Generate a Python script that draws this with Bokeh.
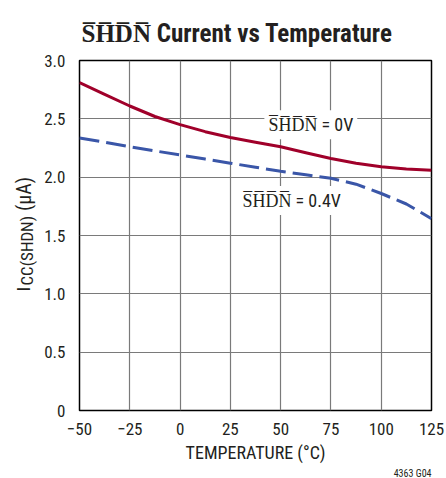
import numpy as np
from bokeh.plotting import figure
from bokeh.layouts import row, column
from bokeh.models import Label, FixedTicker, PrintfTickFormatter, Range1d, Title
from bokeh.embed import file_html
from bokeh.resources import INLINE

# Data
temp = [-50, -37.5, -25, -12.5, 0, 12.5, 25, 37.5, 50, 62.5, 75, 87.5, 100, 112.5, 125]
icc_0v = [2.81, 2.71, 2.61, 2.52, 2.45, 2.39, 2.34, 2.30, 2.26, 2.21, 2.16, 2.12, 2.09, 2.07, 2.06]
icc_04v = [2.335, 2.30, 2.26, 2.225, 2.19, 2.155, 2.12, 2.085, 2.05, 2.02, 1.99, 1.94, 1.86, 1.77, 1.645]
x_ticks = [-50, -25, 0, 25, 50, 75, 100, 125]
x_tick_labels = ["\u221250", "\u221225", "0", "25", "50", "75", "100", "125"]
y_ticks = [0, 0.5, 1.0, 1.5, 2.0, 2.5, 3.0]

OL = "\u0305"
SHDN = "".join(c + OL for c in "SHDN")
FONT = "Roboto Condensed"
TXT = "#231f20"

W, H = 446, 478
TITLE_H, YL_W = 50, 40
MAIN_H = H - TITLE_H

y_range = Range1d(0, 3.0)

p = figure(width=W - YL_W, height=MAIN_H, output_backend="svg", toolbar_location=None,
           x_range=Range1d(-50, 125), y_range=y_range,
           min_border_left=79 - YL_W, min_border_right=15, min_border_top=60 - TITLE_H,
           min_border_bottom=68)
p.background_fill_color = "white"
p.border_fill_color = "white"
p.outline_line_color = "black"
p.outline_line_width = 1.5

p.xaxis.ticker = FixedTicker(ticks=x_ticks)
p.xaxis.major_label_overrides = {t: l for t, l in zip(x_ticks, x_tick_labels)}
p.yaxis.ticker = FixedTicker(ticks=y_ticks)
p.yaxis.formatter = PrintfTickFormatter(format="%.1f")
p.yaxis.major_label_overrides = {0: "0"}
for ax in (p.xaxis[0], p.yaxis[0]):
    ax.axis_line_color = None
    ax.major_tick_line_color = None
    ax.minor_tick_line_color = None
    ax.major_label_text_font = FONT
    ax.major_label_text_font_size = "17px"
    ax.major_label_text_color = TXT
p.xaxis.major_label_standoff = 6
p.yaxis.major_label_standoff = 8

p.xaxis.axis_label = "TEMPERATURE (\u00b0C)"
p.xaxis.axis_label_text_font = FONT
p.xaxis.axis_label_text_font_size = "18px"
p.xaxis.axis_label_text_font_style = "normal"
p.xaxis.axis_label_text_color = TXT
p.xaxis.axis_label_standoff = 4

p.grid.grid_line_color = "#7a7a7a"
p.grid.grid_line_width = 1.2
p.xgrid.ticker = FixedTicker(ticks=x_ticks)
p.ygrid.ticker = FixedTicker(ticks=y_ticks)

p.line(temp, icc_0v, line_color="#a0002a", line_width=3)
p.line(temp, icc_04v, line_color="#3a56a8", line_width=3, line_dash="20 7")

# curve annotations
p.add_layout(Label(x=65, y=2.45, text=SHDN + " = 0V", text_font=FONT, text_font_size="18px",
                   text_align="center", text_baseline="middle", text_color=TXT,
                   background_fill_color="white", padding=4))
p.add_layout(Label(x=55.5, y=1.80, text=SHDN + " = 0.4V", text_font=FONT, text_font_size="18px",
                   text_align="center", text_baseline="middle", text_color=TXT,
                   background_fill_color="white", padding=4))

# figure id below the x axis
p.add_layout(Title(text="4363 G04", align="right", offset=0, standoff=0,
                   text_font=FONT, text_font_size="10px", text_font_style="normal",
                   text_color=TXT), "below")

# title strip
tf = figure(width=W, height=TITLE_H, output_backend="svg", toolbar_location=None,
            x_range=Range1d(0, W), y_range=Range1d(TITLE_H, 0),
            x_axis_type=None, y_axis_type=None, min_border=0)
tf.outline_line_color = None
tf.grid.visible = False
tf.border_fill_color = "white"
tf.background_fill_color = "white"
tf.add_layout(Label(x=81, y=33, text=SHDN + " Current vs Temperature", text_font=FONT,
                    text_font_size="25px", text_font_style="bold", text_align="left",
                    text_baseline="alphabetic", text_color=TXT))

# y-axis title (with subscript) in a narrow companion figure sharing the y range
yl = figure(width=YL_W, height=MAIN_H, output_backend="svg", toolbar_location=None,
            x_range=Range1d(0, YL_W), y_range=y_range, x_axis_type=None, y_axis_type=None,
            min_border_left=0, min_border_right=0, min_border_top=60 - TITLE_H,
            min_border_bottom=68)
yl.outline_line_color = None
yl.grid.visible = False
yl.border_fill_color = "white"
yl.background_fill_color = "white"
yl.add_layout(Label(x=23, y=1.02, text="I", angle=np.pi / 2, text_font=FONT, text_font_size="19px",
                    text_align="left", text_baseline="alphabetic", text_color=TXT))
yl.add_layout(Label(x=26, y=1.071, text="CC(SHDN)", angle=np.pi / 2, text_font=FONT,
                    text_font_size="17px", text_align="left", text_baseline="alphabetic", text_color=TXT))
yl.add_layout(Label(x=23, y=1.71, text="(\u03bcA)", angle=np.pi / 2, text_font=FONT, text_font_size="20px",
                    text_align="left", text_baseline="alphabetic", text_color=TXT))

layout = column(tf, row(yl, p, spacing=0), spacing=0)
open("out.html", "w").write(file_html(layout, INLINE))
